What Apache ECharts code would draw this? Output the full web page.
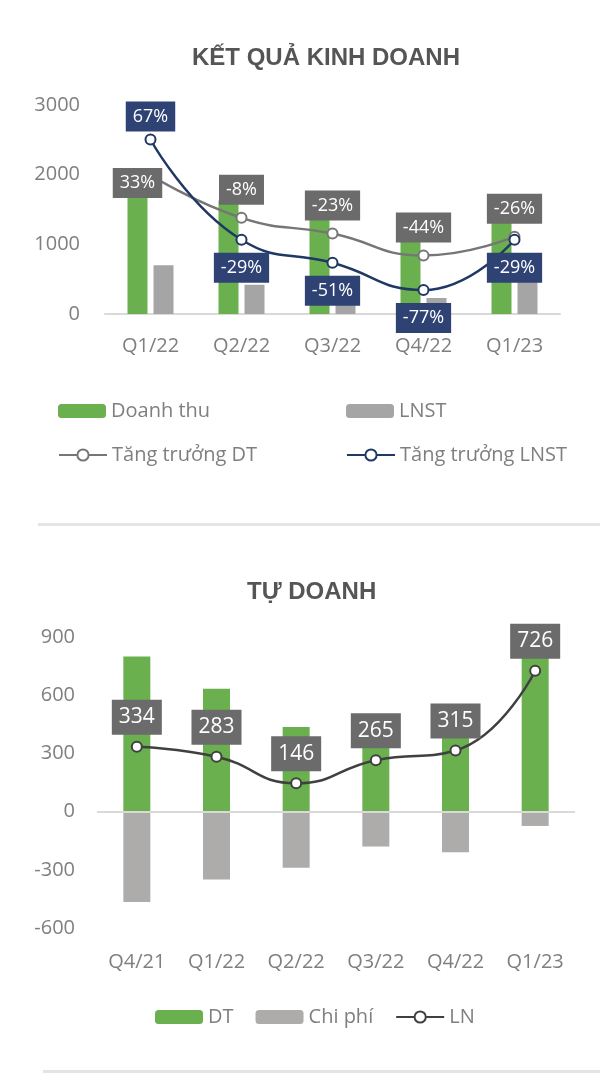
<!DOCTYPE html>
<html>
<head>
<meta charset="utf-8">
<script src="https://cdn.jsdelivr.net/npm/echarts@6/dist/echarts.min.js"></script>
<style>
  html, body { margin: 0; padding: 0; background: #fff; }
  #main { width: 600px; height: 1077px; }
</style>
</head>
<body>
<div id="main"></div>
<script>
// Kết quả kinh doanh
var quarters1 = ['Q1/22', 'Q2/22', 'Q3/22', 'Q4/22', 'Q1/23'];
var revenue = [2000, 1630, 1400, 1350, 1490];
var profit = [700, 420, 130, 230, 500];
var revenueGrowth = [33, -8, -23, -44, -26];
var profitGrowth = [67, -29, -51, -77, -29];

// Tự doanh
var quarters2 = ['Q4/21', 'Q1/22', 'Q2/22', 'Q3/22', 'Q4/22', 'Q1/23'];
var tdRevenue = [800, 633, 436, 445, 525, 800];
var tdCost = [-466, -350, -290, -180, -210, -74];
var tdProfit = [334, 283, 146, 265, 315, 726];

var FONT = '"Open Sans", "Noto Sans", sans-serif';
var TXT = '#7f7f7f';
var TITLE = { fontSize: 24, fontWeight: 'bold', color: '#555555', fontFamily: '"Liberation Sans", Arial, sans-serif' };

function growthData(vals, positions) {
  return vals.map(function (v, i) {
    return { value: v, label: positions[i] };
  });
}

var dtLabelPos = [
  { position: 'inside', offset: [-13, 8] },
  { position: 'top', distance: 7 },
  { position: 'top', distance: 7 },
  { position: 'top', distance: 7 },
  { position: 'top', distance: 7 }
];
var lnLabelPos = [
  { position: 'top', distance: 2 },
  { position: 'bottom', distance: 7 },
  { position: 'bottom', distance: 7 },
  { position: 'bottom', distance: 7 },
  { position: 'bottom', distance: 7 }
];

var legendText = { color: TXT, fontSize: 20, fontFamily: FONT };
var plainNumber = function (v) { return String(v); };

var chart = echarts.init(document.getElementById('main'));
chart.setOption({
  animation: false,
  textStyle: { fontFamily: FONT },
  title: [
    { text: 'KẾT QUẢ KINH DOANH', left: 187, top: 41, textStyle: TITLE },
    { text: 'TỰ DOANH', left: 242, top: 575, textStyle: TITLE }
  ],
  legend: [
    { data: ['Doanh thu'], left: 53, top: 396, itemWidth: 48, itemHeight: 14, textStyle: legendText },
    { data: ['LNST'], left: 341, top: 396, itemWidth: 48, itemHeight: 14, textStyle: legendText },
    { data: ['Tăng trưởng DT'], left: 53, top: 440, itemWidth: 48, itemHeight: 14, textStyle: legendText },
    { data: ['Tăng trưởng LNST'], left: 341, top: 440, itemWidth: 48, itemHeight: 14, textStyle: legendText },
    { data: ['DT', 'Chi phí', 'LN'], left: 150, top: 1002, itemWidth: 48, itemHeight: 14, itemGap: 22, textStyle: legendText }
  ],
  graphic: [
    { type: 'rect', shape: { x: 38, y: 523, width: 562, height: 3 }, style: { fill: '#e4e4e4' } },
    { type: 'rect', shape: { x: 43, y: 1070, width: 557, height: 3 }, style: { fill: '#e4e4e4' } }
  ],
  grid: [
    { left: 105, right: 40, top: 105, height: 209 },
    { left: 97, right: 25, top: 637, height: 291 }
  ],
  xAxis: [
    { type: 'category', gridIndex: 0, data: quarters1,
      axisLine: { lineStyle: { color: '#d9d9d9', width: 2 } },
      axisTick: { show: false },
      axisLabel: { color: TXT, fontSize: 20, margin: 22 } },
    { type: 'category', gridIndex: 1, data: quarters2,
      axisLine: { show: false, onZero: false },
      axisTick: { show: false },
      axisLabel: { color: TXT, fontSize: 20, margin: 24 } }
  ],
  yAxis: [
    { type: 'value', gridIndex: 0, min: 0, max: 3000, interval: 1000,
      splitLine: { show: false }, axisLine: { show: false },
      axisLabel: { color: TXT, fontSize: 20, margin: 25, formatter: plainNumber } },
    { type: 'value', gridIndex: 0, min: -100, max: 100, show: false, splitLine: { show: false } },
    { type: 'value', gridIndex: 1, min: -600, max: 900, interval: 300,
      splitLine: { show: false }, axisLine: { show: false },
      axisLabel: { color: TXT, fontSize: 20, margin: 22, formatter: plainNumber } }
  ],
  series: [
    { name: 'Doanh thu', type: 'bar', xAxisIndex: 0, yAxisIndex: 0, data: revenue,
      barWidth: 20, barGap: '30%', itemStyle: { color: '#6ab04f' } },
    { name: 'LNST', type: 'bar', xAxisIndex: 0, yAxisIndex: 0, data: profit,
      barWidth: 20, itemStyle: { color: '#a5a5a5' } },
    { name: 'Tăng trưởng DT', type: 'line', xAxisIndex: 0, yAxisIndex: 1, smooth: true,
      data: growthData(revenueGrowth, dtLabelPos),
      symbol: 'circle', symbolSize: 10,
      lineStyle: { color: '#767676', width: 2.5 },
      itemStyle: { color: '#fff', borderColor: '#767676', borderWidth: 2 },
      label: { show: true, formatter: '{c}%', color: '#fff', fontSize: 18,
        backgroundColor: '#6b6b6b', padding: [6, 7] } },
    { name: 'Tăng trưởng LNST', type: 'line', xAxisIndex: 0, yAxisIndex: 1, smooth: true,
      data: growthData(profitGrowth, lnLabelPos),
      symbol: 'circle', symbolSize: 10,
      lineStyle: { color: '#1f3864', width: 2.5 },
      itemStyle: { color: '#fff', borderColor: '#1f3864', borderWidth: 2 },
      label: { show: true, formatter: '{c}%', color: '#fff', fontSize: 18,
        backgroundColor: '#2f4274', padding: [6, 7] } },
    { name: 'DT', type: 'bar', xAxisIndex: 1, yAxisIndex: 2, data: tdRevenue,
      barWidth: 27, barGap: '-100%', itemStyle: { color: '#6ab04f' },
      markLine: { silent: true, symbol: 'none', label: { show: false },
        lineStyle: { color: '#d9d9d9', width: 2, type: 'solid' },
        data: [{ yAxis: 0 }] } },
    { name: 'Chi phí', type: 'bar', xAxisIndex: 1, yAxisIndex: 2, data: tdCost,
      barWidth: 27, itemStyle: { color: '#aeabab' } },
    { name: 'LN', type: 'line', xAxisIndex: 1, yAxisIndex: 2, smooth: true, data: tdProfit,
      symbol: 'circle', symbolSize: 10,
      lineStyle: { color: '#404040', width: 2.5 },
      itemStyle: { color: '#fff', borderColor: '#404040', borderWidth: 2 },
      label: { show: true, position: 'top', distance: 6, color: '#fff', fontSize: 21,
        backgroundColor: '#6b6b6b', padding: [7, 7] } }
  ]
});
</script>
</body>
</html>
